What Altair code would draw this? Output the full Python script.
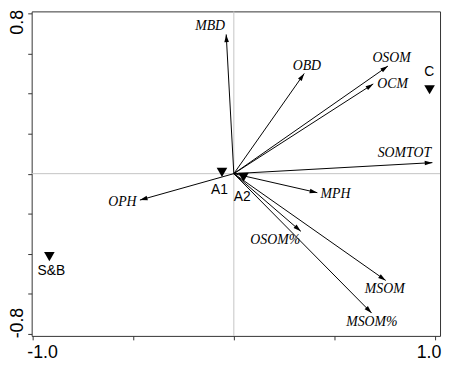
import altair as alt
import pandas as pd

# ---- data ----
variables = ["MBD", "OBD", "OSOM", "OCM", "SOMTOT", "MPH", "OSOM%", "MSOM", "MSOM%", "OPH"]
var_x = [-0.038, 0.350, 0.766, 0.693, 0.987, 0.415, 0.333, 0.755, 0.685, -0.467]
var_y = [0.695, 0.500, 0.537, 0.448, 0.055, -0.095, -0.288, -0.533, -0.696, -0.132]
var_label_x = [-0.118, 0.363, 0.784, 0.789, 0.848, 0.505, 0.206, 0.750, 0.686, -0.554]
var_label_y = [0.735, 0.539, 0.578, 0.446, 0.103, -0.103, -0.333, -0.578, -0.740, -0.142]

sites = ["C", "S&B", "A1", "A2"]
site_x = [0.973, -0.917, -0.059, 0.048]
site_y = [0.419, -0.414, 0.006, -0.018]
site_label_x = [0.971, -0.907, -0.071, 0.042]
site_label_y = [0.507, -0.488, -0.083, -0.118]

x_ticks = [-1.0, -0.5, 0.0, 0.5, 1.0]
x_tick_labels = ["-1.0", "", "", "", "1.0"]
y_ticks = [-0.8, -0.6, -0.4, -0.2, 0.0, 0.2, 0.4, 0.6, 0.8]
y_tick_labels = ["-0.8", "", "", "", "", "", "", "", "0.8"]

x_domain = [-1.005, 1.025]
y_domain = [-0.81, 0.81]


def label_expr(ticks, labels):
    expr = "''"
    for t, l in zip(ticks, labels):
        if l:
            expr = f"abs(datum.value - ({t})) < 1e-6 ? '{l}' : " + expr
    return expr


vars_df = pd.DataFrame({"name": variables, "x": var_x, "y": var_y,
                        "lx": var_label_x, "ly": var_label_y})
sites_df = pd.DataFrame({"name": sites, "x": site_x, "y": site_y,
                         "lx": site_label_x, "ly": site_label_y})

x_axis = alt.Axis(values=x_ticks, labelExpr=label_expr(x_ticks, x_tick_labels),
                  labelFlush=10, labelFlushOffset=6, labelPadding=4,
                  title=None)
y_axis = alt.Axis(values=y_ticks, labelExpr=label_expr(y_ticks, y_tick_labels),
                  labelAngle=-90, labelPadding=1,
                  labelAlign={"condition": {"test": "datum.value > 0", "value": "right"},
                              "value": "left"},
                  labelOffset={"condition": {"test": "datum.value > 0", "value": -4},
                               "value": 4},
                  title=None)


def X(field):
    return alt.X(field, type="quantitative", scale=alt.Scale(domain=x_domain, nice=False, zero=False),
                 axis=x_axis)


def Y(field):
    return alt.Y(field, type="quantitative", scale=alt.Scale(domain=y_domain, nice=False, zero=False),
                 axis=y_axis)


zero_df = pd.DataFrame({"z": [0.0]})
vline = alt.Chart(zero_df).mark_rule(color="#c4c4c4", strokeWidth=1).encode(x=X("z"))
hline = alt.Chart(zero_df).mark_rule(color="#c4c4c4", strokeWidth=1).encode(y=Y("z"))

shafts = alt.Chart(vars_df).transform_calculate(x0="0", y0="0").mark_rule(
    color="black", strokeWidth=1
).encode(x=X("x0"), y=Y("y0"), x2="x:Q", y2="y:Q")

heads = alt.Chart(vars_df).transform_calculate(
    ang="atan2(datum.x, datum.y) * 180 / PI"
).mark_point(shape="M0,0L0.3,1L-0.3,1Z", filled=True, color="black", size=240,
             opacity=1, strokeWidth=0).encode(
    x=X("x"), y=Y("y"), angle=alt.Angle("ang:Q", scale=None)
)

var_text = alt.Chart(vars_df).mark_text(
    font="Liberation Serif", fontStyle="italic", fontSize=14, color="black",
    align="center", baseline="middle"
).encode(x=X("lx"), y=Y("ly"), text="name:N")

site_pts = alt.Chart(sites_df).mark_point(
    shape="triangle-down", filled=True, color="black", size=115, opacity=1
).encode(x=X("x"), y=Y("y"))

site_text = alt.Chart(sites_df).mark_text(
    font="Liberation Sans", fontSize=14, color="black", align="center", baseline="middle"
).encode(x=X("lx"), y=Y("ly"), text="name:N")

chart = alt.layer(vline, hline, shafts, heads, var_text, site_pts, site_text).properties(
    width=414, height=329,
    autosize="none",
    padding={"left": 24, "top": 1, "right": 2, "bottom": 23},
).configure_view(
    stroke="#333", strokeWidth=1
).configure_axis(
    domain=False, grid=False, ticks=True, tickSize=4, tickColor="#333",
    labelFont="Liberation Sans", labelFontSize=18, labelColor="black"
)

chart.save("out.html", embed_options={"renderer": "svg", "actions": False})
